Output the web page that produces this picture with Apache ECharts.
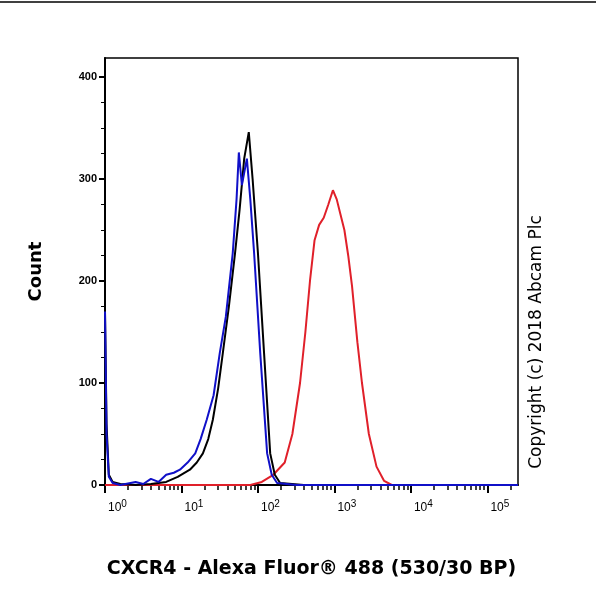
<!DOCTYPE html>
<html><head><meta charset="utf-8">
<script src="https://cdn.jsdelivr.net/npm/echarts@6/dist/echarts.min.js"></script>
<style>html,body{margin:0;background:#fff}#c{width:596px;height:599px}</style>
</head><body><div id="c"></div>
<script>
// x values are log10 of fluorescence
const blackX = [0, 0.02, 0.05, 0.1, 0.2, 0.4, 0.6, 0.8, 0.95, 1.11, 1.2, 1.28, 1.35, 1.41, 1.48, 1.54, 1.62, 1.7, 1.76, 1.82, 1.88, 1.93, 2.0, 2.08, 2.16, 2.22, 2.29, 2.6, 5.4];
const blackY = [170, 60, 10, 3, 1, 0, 1, 3, 8, 15, 22, 31, 45, 64, 95, 129, 175, 227, 270, 320, 346, 300, 227, 129, 31, 10, 2, 0, 0];
const blueX = [0, 0.02, 0.05, 0.1, 0.2, 0.4, 0.5, 0.6, 0.7, 0.8, 0.9, 0.98, 1.08, 1.18, 1.25, 1.33, 1.42, 1.5, 1.58, 1.67, 1.72, 1.75, 1.79, 1.855, 1.9, 1.95, 2.03, 2.12, 2.18, 2.25, 2.5, 5.4];
const blueY = [170, 50, 8, 2, 0, 3, 1, 6, 3, 10, 12, 15, 22, 31, 45, 64, 88, 129, 165, 227, 280, 326, 294, 320, 280, 227, 129, 31, 10, 2, 0, 0];
const redX = [0, 1.9, 2.05, 2.2, 2.35, 2.45, 2.55, 2.62, 2.68, 2.74, 2.8, 2.86, 2.92, 2.98, 3.03, 3.08, 3.13, 3.18, 3.23, 3.3, 3.36, 3.45, 3.55, 3.65, 3.75, 5.4];
const redY = [0, 0, 3, 10, 22, 50, 100, 150, 200, 240, 255, 262, 275, 289, 280, 265, 250, 225, 195, 140, 100, 50, 18, 4, 0, 0];
const yTicks = [0, 100, 200, 300, 400];
const xDecades = [0, 1, 2, 3, 4, 5];

const minorX = [];
xDecades.forEach(d => { for (let k = 2; k <= 9; k++) { const v = d + Math.log10(k); if (v < 5.4) minorX.push(v); } });
const pts = (xs, ys) => xs.map((x, i) => [x, ys[i]]);

const chart = echarts.init(document.getElementById('c'));
chart.setOption({
  animation: false,
  grid: { left: 105, right: 78, top: 58, bottom: 114 },
  xAxis: [{
    type: 'value', min: 0, max: 5.4,
    axisLine: { lineStyle: { color: '#000', width: 2 } },
    splitLine: { show: false },
    axisTick: { customValues: xDecades, length: 8, lineStyle: { color: '#000', width: 2 } },
    axisLabel: {
      customValues: xDecades, margin: 14, align: 'left', padding: [0, 0, 0, 3],
      formatter: v => '10{s|' + v + '}',
      color: '#000', fontFamily: 'Arial', fontSize: 12,
      rich: { s: { fontSize: 10, verticalAlign: 'top', padding: [0, 0, 8, 0], color: '#000' } }
    },
    name: 'CXCR4 - Alexa Fluor® 488 (530/30 BP)', nameLocation: 'middle', nameGap: 75,
    nameTextStyle: { color: '#000', fontFamily: 'DejaVu Sans', fontWeight: 'bold', fontSize: 19 }
  }, {
    type: 'value', min: 0, max: 5.4, position: 'bottom',
    axisLine: { show: false }, splitLine: { show: false }, axisLabel: { show: false },
    axisTick: { customValues: minorX, length: 5, lineStyle: { color: '#000', width: 1.5 } }
  }],
  yAxis: {
    type: 'value', min: 0, max: 418.6, interval: 100,
    axisLine: { show: true, lineStyle: { color: '#000', width: 2 } },
    axisTick: { show: true, customValues: yTicks, length: 6, lineStyle: { color: '#000', width: 2 } },
    minorTick: { show: true, splitNumber: 4, length: 4, lineStyle: { color: '#000' } },
    splitLine: { show: false },
    axisLabel: { customValues: yTicks, color: '#000', fontFamily: 'Arial', fontWeight: 'bold', fontSize: 11, margin: 8 },
    name: 'Count', nameLocation: 'middle', nameGap: 60, nameRotate: 90,
    nameTextStyle: { color: '#000', fontFamily: 'DejaVu Sans', fontWeight: 'bold', fontSize: 18 }
  },
  series: [
    { type: 'line', data: pts(redX, redY), symbol: 'none', lineStyle: { color: '#e0202a', width: 2 }, z: 2 },
    { type: 'line', data: pts(blackX, blackY), symbol: 'none', lineStyle: { color: '#000', width: 2 }, z: 3 },
    { type: 'line', data: pts(blueX, blueY), symbol: 'none', lineStyle: { color: '#1010c8', width: 2 }, z: 4 }
  ],
  graphic: [
    { type: 'line', shape: { x1: 0, y1: 2, x2: 596, y2: 2 }, style: { stroke: '#000', lineWidth: 1.5 } },
    { type: 'rect', shape: { x: 105, y: 58, width: 413, height: 427 }, style: { fill: 'none', stroke: '#000', lineWidth: 1.5 }, silent: true },
    { type: 'text', x: 537, y: 342, rotation: Math.PI / 2,
      style: { text: 'Copyright (c) 2018 Abcam Plc', fill: '#000', font: '17px "DejaVu Sans"', align: 'center', verticalAlign: 'middle' } }
  ]
});
</script></body></html>
